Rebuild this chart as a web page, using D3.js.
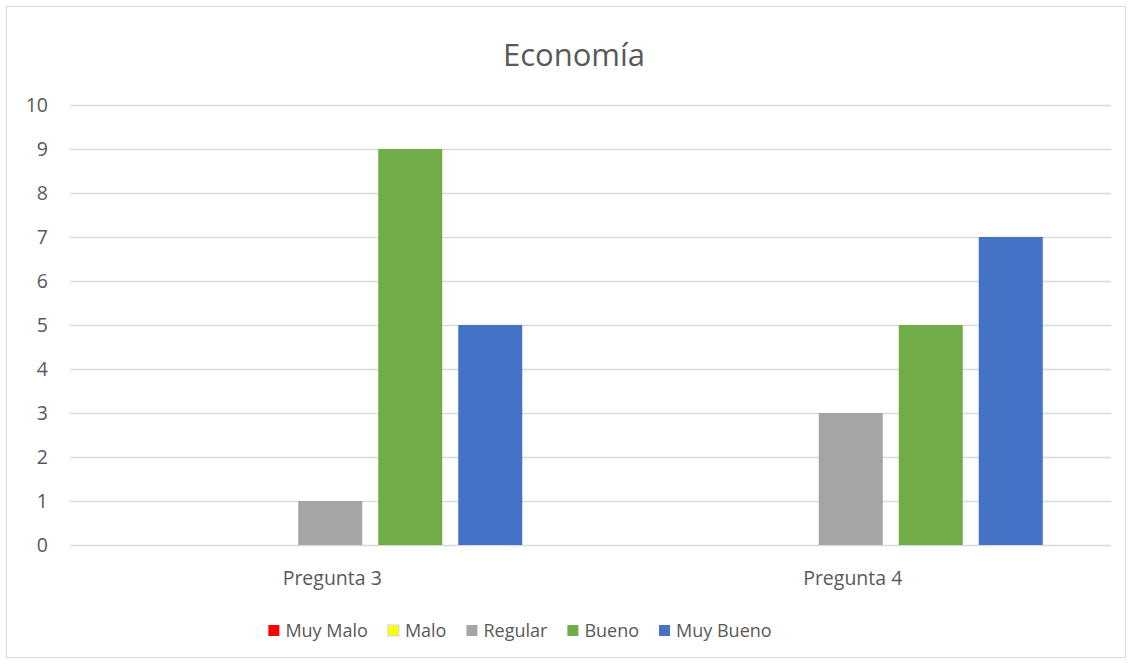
<!DOCTYPE html>
<html>
<head>
<meta charset="utf-8">
<script src="https://cdn.jsdelivr.net/npm/d3@7"></script>
<style>
  body { margin: 0; background: #fff; }
  text { font-family: "Open Sans", "Noto Sans", sans-serif; fill: #595959; }
</style>
</head>
<body>
<script>
let categories = ["Pregunta 3", "Pregunta 4"];
let series = ["Muy Malo", "Malo", "Regular", "Bueno", "Muy Bueno"];
let colors = ["#ff0000", "#ffff00", "#a5a5a5", "#70ad47", "#4472c4"];
let values = [
  [0, 0, 1, 9, 5],
  [0, 0, 3, 5, 7]
];
let yTicks = [0, 1, 2, 3, 4, 5, 6, 7, 8, 9, 10];

let width = 1132;
let height = 664;
let plotLeft = 70, plotRight = 1111, plotTop = 105, plotBottom = 545;

let svg = d3.select("body").append("svg").attr("width", width).attr("height", height);

// chart frame
svg.append("rect").attr("x", 6.5).attr("y", 6.5).attr("width", 1119).attr("height", 651)
  .attr("fill", "#fff").attr("stroke", "#d9d9d9").attr("stroke-width", 1);

svg.append("text").attr("x", 574).attr("y", 66).attr("text-anchor", "middle")
  .style("font-size", "31px").text("Economía");

let y = d3.scaleLinear().domain([0, 10]).range([plotBottom, plotTop]);
let x0 = d3.scaleBand().domain(categories).range([plotLeft, plotRight]);
let step = 80;
let po = (x0.bandwidth() / step - 5 + 0.2) / 2;
let x1 = d3.scaleBand().domain(series).range([0, x0.bandwidth()]).paddingInner(0.2).paddingOuter(po);

// gridlines
svg.append("g").selectAll("line").data(yTicks).enter().append("line")
  .attr("x1", plotLeft).attr("x2", plotRight)
  .attr("y1", (d) => {return Math.round(y(d)) + 0.5;})
  .attr("y2", (d) => {return Math.round(y(d)) + 0.5;})
  .attr("stroke", "#d9d9d9").attr("stroke-width", 1.3);

// y labels
svg.append("g").selectAll("text").data(yTicks).enter().append("text")
  .attr("x", 48).attr("y", (d) => {return y(d);})
  .attr("dy", "0.35em").attr("text-anchor", "end")
  .style("font-size", "19.5px").text((d) => {return d;});

// bars
let groups = svg.selectAll("g.cat").data(categories).enter().append("g")
  .attr("class", "cat")
  .attr("transform", (d) => {return "translate(" + x0(d) + ",0)";});

groups.selectAll("rect").data((d, i) => {return values[i].map((v, j) => {return {s: series[j], v: v, c: colors[j]};});})
  .enter().append("rect")
  .attr("x", (d) => {return x1(d.s);})
  .attr("width", x1.bandwidth())
  .attr("y", (d) => {return y(d.v);})
  .attr("height", (d) => {return y(0) - y(d.v);})
  .attr("fill", (d) => {return d.c;});

// category labels
svg.append("g").selectAll("text").data(categories).enter().append("text")
  .attr("x", (d) => {return x0(d) + x0.bandwidth() / 2 + 2;})
  .attr("y", 585).attr("text-anchor", "middle")
  .style("font-size", "19.5px").text((d) => {return d;});

// legend
let legend = svg.append("g");
let items = legend.selectAll("g").data(series).enter().append("g");
items.append("rect").attr("width", 11).attr("height", 11).attr("y", -6)
  .attr("fill", (d, i) => {return colors[i];})
  .attr("stroke", (d, i) => {return i === 1 ? "#c9d6e4" : "none";});
items.append("text").attr("x", 17).attr("dy", "0.35em")
  .style("font-size", "18px").text((d) => {return d;});
let pos = 0;
items.each(function() {
  let w = d3.select(this).select("text").node().getComputedTextLength();
  d3.select(this).attr("transform", "translate(" + pos + ",0)");
  pos += 17 + w + 20;
});
let total = pos - 20;
legend.attr("transform", "translate(" + (520 - total / 2) + ",631)");
</script>
</body>
</html>
